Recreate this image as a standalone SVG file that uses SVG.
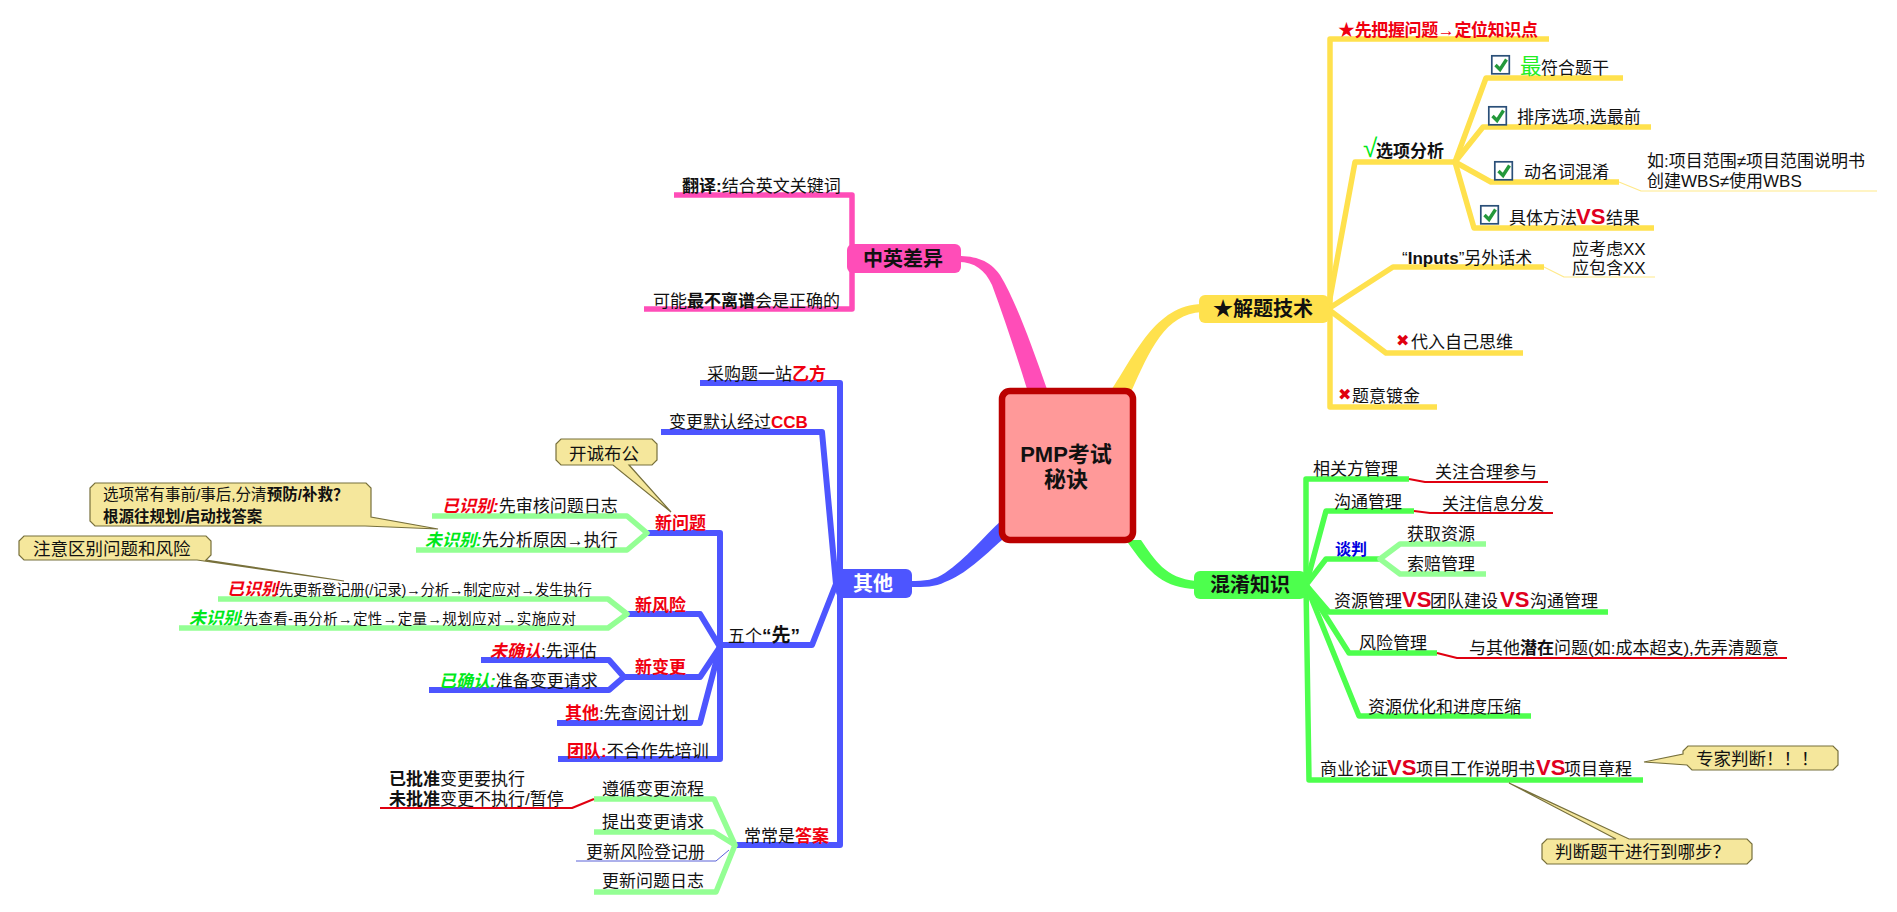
<svg xmlns="http://www.w3.org/2000/svg" xmlns:xlink="http://www.w3.org/1999/xlink" width="1897" height="912" viewBox="0 0 1897 912">
<style>
text{font-family:"Liberation Sans","Noto Sans CJK SC",sans-serif;font-size:17px;fill:#111}
.c{text-anchor:middle}
.bd{font-weight:bold}
.r{fill:#f00010;font-weight:bold}
.gi{fill:#00e81a;font-weight:bold;font-style:italic}
.ri{fill:#f00010;font-weight:bold;font-style:italic}
.vs{fill:#e00020;font-weight:bold;font-size:22px}
.sm{font-size:14.5px}
.t{font-size:20px;font-weight:bold}
.l{fill:none;stroke-linejoin:round;stroke-linecap:butt}
.y{stroke:#ffe14d;stroke-width:5.5}
.p{stroke:#ff4db8;stroke-width:5.5}
.b{stroke:#4d55ff;stroke-width:6}
.g{stroke:#4dff4d;stroke-width:5.5}
.lg{stroke:#94ff94;stroke-width:5.5}
.rd{stroke:#e00010;stroke-width:2}
.ty{stroke:#ffe98a;stroke-width:1.2}
.tb{stroke:#5a62d8;stroke-width:1}
.x{fill:#e00010;font-family:"DejaVu Sans",sans-serif;font-size:16px}
.call{fill:#f5e79c;stroke:#77703c;stroke-width:1.2}
</style>
<defs>
<g id="chk"><rect x="0.8" y="0.8" width="17.5" height="18" fill="#fff" stroke="#2a4f78" stroke-width="1.7"/><path d="M4.5,10 L9,14.5 L15.5,4.5" fill="none" stroke="#23983a" stroke-width="3.4"/></g>
</defs>
<rect width="1897" height="912" fill="#fff"/>
<g id="connectors">
<path d="M1110,392 C1135,355 1155,305 1202,304 L1202,312 C1165,314 1150,350 1131,392 Z" fill="#ffe14d"/>
<path d="M1028,392 L1048,392 C1030,340 1015,300 1000,275 C990,260 975,256 958,256 L958,262 C975,262 985,270 992,285 C1005,320 1018,360 1028,392 Z" fill="#ff4db8"/>
<path d="M1002,520 L1002,540 C985,555 965,575 945,582 C935,587 925,587 910,587 L910,581 C925,581 935,580 945,573 C965,560 985,535 1002,520 Z" fill="#4d55ff"/>
<path d="M1126,540 L1141,540 C1155,560 1165,578 1196,581 L1196,589 C1165,588 1150,575 1126,540 Z" fill="#4dff4d"/>
<!-- yellow -->
<path class="l y" d="M1549,39 H1330 V407 H1437"/>
<path class="l y" d="M1328,309 L1355,162 H1455"/>
<path class="l y" d="M1623,78 H1486 L1455,162"/>
<path class="l y" d="M1651,127 H1483 L1455,162"/>
<path class="l y" d="M1619,182 H1491 L1455,162"/>
<path class="l y" d="M1654,228 H1474 L1455,162"/>
<path class="l y" d="M1328,309 L1393,267 H1544"/>
<path class="l y" d="M1328,309 L1386,353 H1523"/>
<path class="l ty" d="M1619,182 L1641,191 H1877"/>
<path class="l ty" d="M1544,267 L1564,277 H1655"/>
<!-- pink -->
<path class="l p" d="M674,195 H852 V309 H644"/>
<!-- blue -->
<path class="l b" d="M700,383 H840 V845 H735"/>
<path class="l b" d="M661,432 H822 L836,584"/>
<path class="l b" d="M836,584 L812,645 H720"/>
<path class="l b" d="M647,533 H720 V759 H558"/>
<path class="l b" d="M627,614 H700 L720,647"/>
<path class="l b" d="M624,677 H700 L720,647"/>
<path class="l b" d="M557,723 H700 L720,647"/>
<path class="l b" d="M481,660 H609 L624,677 L609,690 H429"/>
<!-- light green -->
<path class="l lg" d="M432,516 H627 L647,533 L627,550 H416"/>
<path class="l lg" d="M218,599 H608 L627,614 L608,628 H179"/>
<path class="l lg" d="M594,799 H714 L735,845 L714,832 H594"/>
<path class="l lg" d="M594,892 H716 L735,845"/>
<path class="l tb" d="M576,861 H716 L729,850"/>
<path class="l rd" d="M594,799 L572,808 H380"/>
<!-- green -->
<path class="l g" d="M1409,479 H1306 V585 L1309,780 H1643"/>
<path class="l g" d="M1306,585 L1326,511 H1414"/>
<path class="l g" d="M1306,585 L1326,559 H1380"/>
<path class="l g" d="M1306,585 L1329,612 H1608"/>
<path class="l g" d="M1306,585 L1349,653 H1437"/>
<path class="l g" d="M1306,585 L1359,716 H1531"/>
<path class="l lg" d="M1486,544 H1400 L1380,559 L1400,574 H1486"/>
<path class="l rd" d="M1409,479 L1425,482 H1548"/>
<path class="l rd" d="M1414,511 L1430,513 H1553"/>
<path class="l rd" d="M1437,653 L1457,658 H1787"/>
</g>
<g id="center"><rect x="1002" y="391" width="131" height="149" rx="8" fill="#ff9999" stroke="#bb0000" stroke-width="6.5"/><text class="c t" x="1066" y="462" style="font-size:22px">PMP考试</text><text class="c t" x="1066" y="487" style="font-size:22px">秘诀</text></g>
<g id="n-jieti"><rect x="1199" y="295" width="130" height="28" rx="6" fill="#ffe14d"/><text class="c t" x="1263" y="316">★解题技术</text></g>
<g id="n-zhongying"><rect x="847" y="244" width="114" height="29" rx="6" fill="#ff4db8"/><text class="c t" x="903" y="266">中英差异</text></g>
<g id="n-qita"><rect x="836" y="569" width="76" height="29" rx="6" fill="#4d55ff"/><text class="c t" x="873" y="591" style="fill:#fff">其他</text></g>
<g id="n-hunxiao"><rect x="1194" y="571" width="112" height="28" rx="6" fill="#4dff4d"/><text class="c t" x="1250" y="592">混淆知识</text></g>
<g id="y1"><text x="1338" y="36" class="r" textLength="200">★先把握问题→定位知识点</text></g>
<g id="y2"><text x="1363" y="157" style="fill:#00e81a;font-size:26px">√</text><text x="1376" y="157" class="bd">选项分析</text></g>
<g id="y3"><use xlink:href="#chk" href="#chk" x="1491" y="55"/><text x="1520" y="74" style="fill:#22ee22;font-size:21.5px">最</text><text x="1541" y="74">符合题干</text></g>
<g id="y4"><use xlink:href="#chk" href="#chk" x="1488" y="106"/><text x="1517" y="123">排序选项,选最前</text></g>
<g id="y5"><use xlink:href="#chk" href="#chk" x="1494" y="161"/><text x="1524" y="178">动名词混淆</text></g>
<g id="y6"><text x="1647" y="167">如:项目范围≠项目范围说明书</text><text x="1647" y="187">创建WBS≠使用WBS</text></g>
<g id="y7"><use xlink:href="#chk" href="#chk" x="1480" y="205"/><text x="1509" y="224">具体方法<tspan class="vs" x="1576">VS</tspan><tspan x="1606">结果</tspan></text></g>
<g id="y8"><text x="1402" y="264">“<tspan class="bd">Inputs</tspan>”另外话术</text></g>
<g id="y9"><text x="1572" y="255">应考虑XX</text><text x="1572" y="274">应包含XX</text></g>
<g id="y10"><text x="1396" y="346" class="x">✖</text><text x="1411" y="348">代入自己思维</text></g>
<g id="y11"><text x="1338" y="400" class="x">✖</text><text x="1352" y="402">题意镀金</text></g>
<g id="p1"><text x="682" y="192"><tspan class="bd">翻译:</tspan>结合英文关键词</text></g>
<g id="p2"><text x="653" y="307">可能<tspan class="bd">最不离谱</tspan>会是正确的</text></g>
<g id="b1"><text x="707" y="380">采购题一站<tspan class="r">乙方</tspan></text></g>
<g id="b2"><text x="669" y="428">变更默认经过<tspan class="r">CCB</tspan></text></g>
<g id="b3"><text x="728" y="642">五个<tspan class="bd" style="font-size:19px">“先”</tspan></text></g>
<g id="b4"><text x="655" y="529" class="r">新问题</text></g>
<g id="b5"><text x="442" y="512"><tspan class="ri">已识别:</tspan>先审核问题日志</text></g>
<g id="b6"><text x="425" y="546"><tspan class="gi">未识别:</tspan>先分析原因→执行</text></g>
<g id="b7"><text x="635" y="611" class="r">新风险</text></g>
<g id="b8"><text x="227" y="595" class="ri">已识别</text><text x="275" y="595" class="sm" textLength="317">:先更新登记册(/记录)→分析→制定应对→发生执行</text></g>
<g id="b9"><text x="189" y="624" class="gi">未识别</text><text x="239" y="624" class="sm" textLength="337">:先查看-再分析→定性→定量→规划应对→实施应对</text></g>
<g id="b10"><text x="635" y="673" class="r">新变更</text></g>
<g id="b11"><text x="490" y="657"><tspan class="ri">未确认</tspan>:先评估</text></g>
<g id="b12"><text x="439" y="687"><tspan class="gi">已确认:</tspan>准备变更请求</text></g>
<g id="b13"><text x="565" y="719"><tspan class="r">其他</tspan>:先查阅计划</text></g>
<g id="b14"><text x="567" y="757"><tspan class="r">团队:</tspan>不合作先培训</text></g>
<g id="b15"><text x="744" y="842">常常是<tspan class="r">答案</tspan></text></g>
<g id="b16"><text x="602" y="795">遵循变更流程</text></g>
<g id="b17"><text x="602" y="828">提出变更请求</text></g>
<g id="b18"><text x="586" y="858">更新风险登记册</text></g>
<g id="b19"><text x="602" y="887">更新问题日志</text></g>
<g id="b20"><text x="389" y="785"><tspan class="bd">已批准</tspan>变更要执行</text><text x="389" y="805"><tspan class="bd">未批准</tspan>变更不执行/暂停</text></g>
<g id="g1"><text x="1313" y="475">相关方管理</text></g>
<g id="g2"><text x="1435" y="478">关注合理参与</text></g>
<g id="g3"><text x="1334" y="508">沟通管理</text></g>
<g id="g4"><text x="1442" y="510">关注信息分发</text></g>
<g id="g5"><text x="1335" y="555" style="fill:#0000e0;font-weight:bold;font-size:16px">谈判</text></g>
<g id="g6"><text x="1407" y="540">获取资源</text></g>
<g id="g7"><text x="1407" y="570">索赔管理</text></g>
<g id="g8"><text x="1334" y="607">资源管理<tspan class="vs" x="1402">VS</tspan><tspan x="1430">团队建设</tspan><tspan class="vs" x="1500">VS</tspan><tspan x="1530">沟通管理</tspan></text></g>
<g id="g9"><text x="1359" y="649">风险管理</text></g>
<g id="g10"><text x="1469" y="654">与其他<tspan class="bd">潜在</tspan>问题(如:成本超支),先弄清题意</text></g>
<g id="g11"><text x="1368" y="713">资源优化和进度压缩</text></g>
<g id="g12"><text x="1320" y="775">商业论证<tspan class="vs" x="1387">VS</tspan><tspan x="1416">项目工作说明书</tspan><tspan class="vs" x="1536">VS</tspan><tspan x="1564">项目章程</tspan></text></g>
<g id="c1"><path class="call" d="M561,439 H652 L657,444 V460 L652,465 H629 L671,512 L613,465 H561 L556,460 V444 Z"/><text x="569" y="460" style="font-size:17.5px">开诚布公</text></g>
<g id="c2"><path class="call" d="M95,483 H366 L371,488 V517 L438,529 L365,526 H95 L90,521 V488 Z"/><text x="103" y="500" style="font-size:15.5px">选项常有事前/事后,分清<tspan class="bd">预防/补救？</tspan></text><text x="103" y="522" class="bd" style="font-size:15.5px">根源往规划/启动找答案</text></g>
<g id="c3"><path class="call" d="M24,536 H206 L211,541 V555 L206,560 L344,581 L197,560 H24 L19,555 V541 Z"/><text x="33" y="555" style="font-size:17.5px">注意区别问题和风险</text></g>
<g id="c4"><path class="call" d="M1688,746 H1833 L1838,751 V765 L1833,770 H1692 L1687,765 L1644,762 L1683,754 V751 Z"/><text x="1696" y="765" style="font-size:17.5px">专家判断！！！</text></g>
<g id="c5"><path class="call" d="M1547,839 H1616 L1509,783 L1629,839 H1747 L1752,844 V859 L1747,864 H1547 L1542,859 V844 Z"/><text x="1555" y="858" style="font-size:17.5px">判断题干进行到哪步？</text></g>
</svg>
